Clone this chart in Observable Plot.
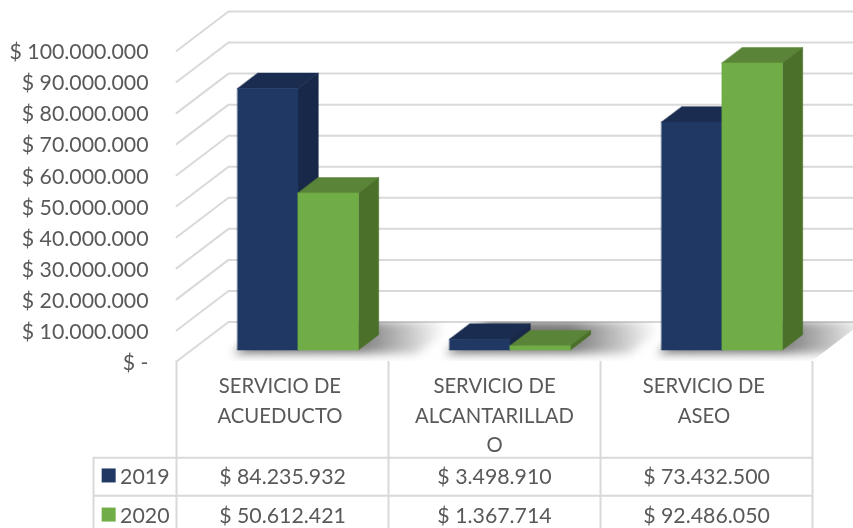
<!DOCTYPE html>
<html>
<head>
<meta charset="utf-8">
<style>html,body{margin:0;padding:0;background:#fff}svg{filter:blur(0.4px)}</style>
<script src="https://cdn.jsdelivr.net/npm/d3@7"></script>
<script src="https://cdn.jsdelivr.net/npm/@observablehq/plot@0.6"></script>
</head>
<body>
<div id="chart"></div>
<script>
const categories = ["SERVICIO DE\nACUEDUCTO", "SERVICIO DE\nALCANTARILLAD\nO", "SERVICIO DE\nASEO"];
const years = ["2019", "2020"];
const values2019 = [84235932, 3498910, 73432500];
const values2020 = [50612421, 1367714, 92486050];
const yTicks = [0, 10e6, 20e6, 30e6, 40e6, 50e6, 60e6, 70e6, 80e6, 90e6, 100e6];

const series = [values2019, values2020];
const palette = [
  {front: "#1f3864", top: "#1a2c50", side: "#172848"},
  {front: "#70ad47", top: "#5a8437", side: "#4b7029"}
];
const ink = "#595959", grid = "#d9d9d9", font = "Lato";

// 3D projection constants, in scale units
const DX = 0.2453, DY = 12.72e6, GAP = 0.217, BW = 0.285, Z0 = 0.29, Z1 = 0.68;
const P = (x, v, z) => ({x: x + z * DX, y: v + z * DY});

// table layout, in scale units
const rowTop = -31e6, rowMid = -43.2e6, rowEnd = -54e6;
const rowText = [-36.7e6, -49.3e6];
const labelShift = [-0.012, 0, -0.012];
const keyLeft = -0.3915, keySwatch = -0.32, keyText = -0.266;

const loc = d3.formatLocale({decimal: ",", thousands: ".", grouping: [3], currency: ["$ ", ""]});
const money = (v) => "$ " + loc.format(",")(v);

const gridLines = yTicks.flatMap((v) => [P(0, v, 0), P(0, v, 1), P(3, v, 1)].map((p) => ({...p, id: v})));

const faces = [];
categories.forEach((_, i) => {
  series.forEach((vals, j) => {
    const v = vals[i], a = i + GAP + j * BW, b = a + BW, c = palette[j];
    const add = (name, color, pts) => pts.forEach((p) => faces.push({...p, id: `${i}-${j}-${name}`, color}));
    add("top", c.top, [P(a, v, Z0), P(b, v, Z0), P(b, v, Z1), P(a, v, Z1)]);
    add("side", c.side, [P(b, 0, Z0), P(b, 0, Z1), P(b, v, Z1), P(b, v, Z0)]);
    add("front", c.front, [P(a, 0, Z0), P(b, 0, Z0), P(b, v, Z0), P(a, v, Z0)]);
  });
});

const shadows = categories.flatMap((_, i) => {
  const a = i + GAP, b = a + 2 * BW + 0.3;
  return [P(a, 0, 0.2), P(b, 0, 0.2), P(b, 0, 1.02), P(a, 0, 1.02)].map((p) => ({...p, id: i}));
});

function floorShadow(index, scales, values, dims, ctx, next) {
  const g = next(index, scales, values, dims, ctx);
  const defs = d3.select(g).append("defs");
  const grad = defs.append("linearGradient").attr("id", "shade");
  [[0, 0.85], [0.55, 0.82], [0.75, 0.4], [0.94, 0]].forEach(([o, a]) =>
    grad.append("stop").attr("offset", o).attr("stop-color", "#5c5c5c").attr("stop-opacity", a));
  const floor = [P(0, 0, 0), P(0, 0, 1), P(3, 0, 1), P(3, 0, 0)];
  defs.append("clipPath").attr("id", "floor").append("polygon")
    .attr("points", floor.map((p) => [scales.x(p.x), scales.y(p.y)].join(",")).join(" "));
  const wrap = d3.create("svg:g").attr("clip-path", "url(#floor)");
  wrap.node().appendChild(g);
  return wrap.node();
}

const colRules = [0, 1, 2, 3];
const textOpts = {fontFamily: font, fontSize: 21.3, fill: ink, lineAnchor: "middle", dy: 1.5};

const plot = Plot.plot({
  width: 853, height: 528,
  marginLeft: 176, marginRight: 41, marginTop: 50, marginBottom: 167,
  style: {background: "#fff"},
  x: {domain: [0, 3], range: [176, 812], axis: null},
  y: {domain: [0, 100e6], range: [361, 50.5]},
  color: {type: "identity"},
  marks: [
    Plot.line(gridLines, {x: "x", y: "y", z: "id", stroke: grid, strokeWidth: 2}),
    Plot.line(shadows, {x: "x", y: "y", z: "id", fill: "url(#shade)", stroke: "none", curve: "linear-closed",
      imageFilter: "blur(5px)", render: floorShadow}),
    Plot.line(faces, {x: "x", y: "y", z: "id", fill: "color", stroke: "color", strokeWidth: 0.5, curve: "linear-closed"}),
    Plot.axisY({ticks: yTicks, tickFormat: (d) => d === 0 ? "$ -" : money(d), tickSize: 0, tickPadding: 28,
      label: null, fontSize: 21.3, fontFamily: font, fill: ink, anchor: "left", dy: 1.5}),
    // data table
    Plot.ruleX(colRules, {x: (d) => d, y1: 0, y2: rowEnd, stroke: grid, strokeWidth: 2}),
    Plot.ruleX([keyLeft], {x: (d) => d, y1: rowTop, y2: rowEnd, stroke: grid, strokeWidth: 2}),
    Plot.ruleY([rowTop, rowMid], {y: (d) => d, x1: keyLeft, x2: 3, stroke: grid, strokeWidth: 2}),
    Plot.text(categories, {x: (d, i) => i + 0.5 + labelShift[i], y: -3.4e6, text: (d) => d,
      fontFamily: font, fontSize: 20.3, fill: ink, lineAnchor: "top", lineHeight: 1.46}),
    ...series.map((vals, j) => Plot.text(vals, {x: (d, i) => i + 0.5, y: rowText[j], text: money, ...textOpts})),
    Plot.dot(years, {x: keySwatch, y: (d, j) => rowText[j], symbol: "square", r: 7.9, stroke: "none",
      fill: (d, j) => palette[j].front}),
    Plot.text(years, {x: keyText, y: (d, j) => rowText[j], text: (d) => d, textAnchor: "start", ...textOpts})
  ]
});
document.getElementById("chart").appendChild(plot);
</script>
</body>
</html>
